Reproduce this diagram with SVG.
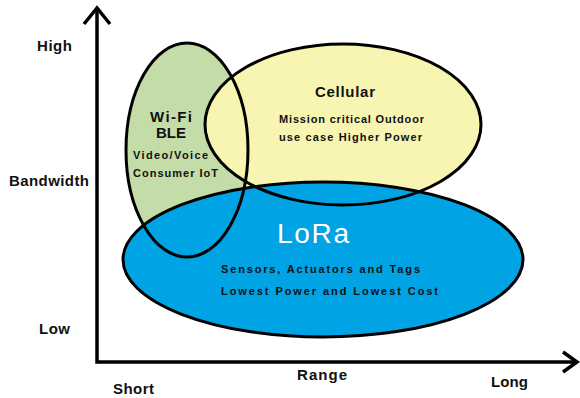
<svg xmlns="http://www.w3.org/2000/svg" width="580" height="398" viewBox="0 0 580 398">
<style>
.lbl{font-family:"Liberation Sans",Arial,sans-serif;font-weight:bold;fill:#111;}
.ax{font-size:15px;}
.ttl{font-size:15px;}
.sm{font-size:11px;}
.outline{fill:none;stroke:#000;stroke-width:3;}
.axis{fill:none;stroke:#000;stroke-width:3.5;}
</style>
<rect width="580" height="398" fill="#fff"/>
<g id="connectors">
<polyline class="axis" points="97,9 97,362 577,362"/>
<polyline class="axis" points="84,24 97,8 110,24"/>
<polyline class="axis" points="563,352 577,362 563,372"/>
</g>
<g id="fills">
<ellipse cx="187" cy="150" rx="61" ry="107" fill="#c4dca7"/>
<ellipse cx="343" cy="124.5" rx="138" ry="80.5" fill="#f7f5b1"/>
<ellipse cx="323" cy="259.5" rx="200" ry="77.5" fill="#00a3e4"/>
</g>
<g id="wifi">
<ellipse class="outline" cx="187" cy="150" rx="61" ry="107"/>
<text class="lbl ttl" x="150" y="122" textLength="42" lengthAdjust="spacing">Wi-Fi</text>
<text class="lbl ttl" x="156" y="138" textLength="30" lengthAdjust="spacing">BLE</text>
<text class="lbl sm" x="133" y="159" textLength="75" lengthAdjust="spacing">Video/Voice</text>
<text class="lbl sm" x="133" y="177" textLength="85" lengthAdjust="spacing">Consumer IoT</text>
</g>
<g id="cellular">
<ellipse class="outline" cx="343" cy="124.5" rx="138" ry="80.5"/>
<text class="lbl ttl" x="315" y="97" textLength="60" lengthAdjust="spacing">Cellular</text>
<text class="lbl sm" x="279" y="123" textLength="145" lengthAdjust="spacing">Mission critical Outdoor</text>
<text class="lbl sm" x="279" y="141" textLength="143" lengthAdjust="spacing">use case Higher Power</text>
</g>
<g id="lora">
<ellipse class="outline" cx="323" cy="259.5" rx="200" ry="77.5"/>
<text x="277" y="243" font-family="Liberation Sans,Arial,sans-serif" font-size="28" fill="#fff" textLength="72" lengthAdjust="spacing">LoRa</text>
<text class="lbl sm" x="221" y="273" textLength="199" lengthAdjust="spacing">Sensors, Actuators and Tags</text>
<text class="lbl sm" x="221" y="295" textLength="217" lengthAdjust="spacing">Lowest Power and Lowest Cost</text>
</g>
<g id="axis-labels">
<text class="lbl ax" x="37" y="51" textLength="35" lengthAdjust="spacing">High</text>
<text class="lbl ax" x="9" y="186" textLength="80" lengthAdjust="spacing">Bandwidth</text>
<text class="lbl ax" x="39" y="334" textLength="31" lengthAdjust="spacing">Low</text>
<text class="lbl ax" x="113" y="394" textLength="41" lengthAdjust="spacing">Short</text>
<text class="lbl ax" x="297" y="380" textLength="50" lengthAdjust="spacing">Range</text>
<text class="lbl ax" x="491" y="387" textLength="37" lengthAdjust="spacing">Long</text>
</g>
</svg>
